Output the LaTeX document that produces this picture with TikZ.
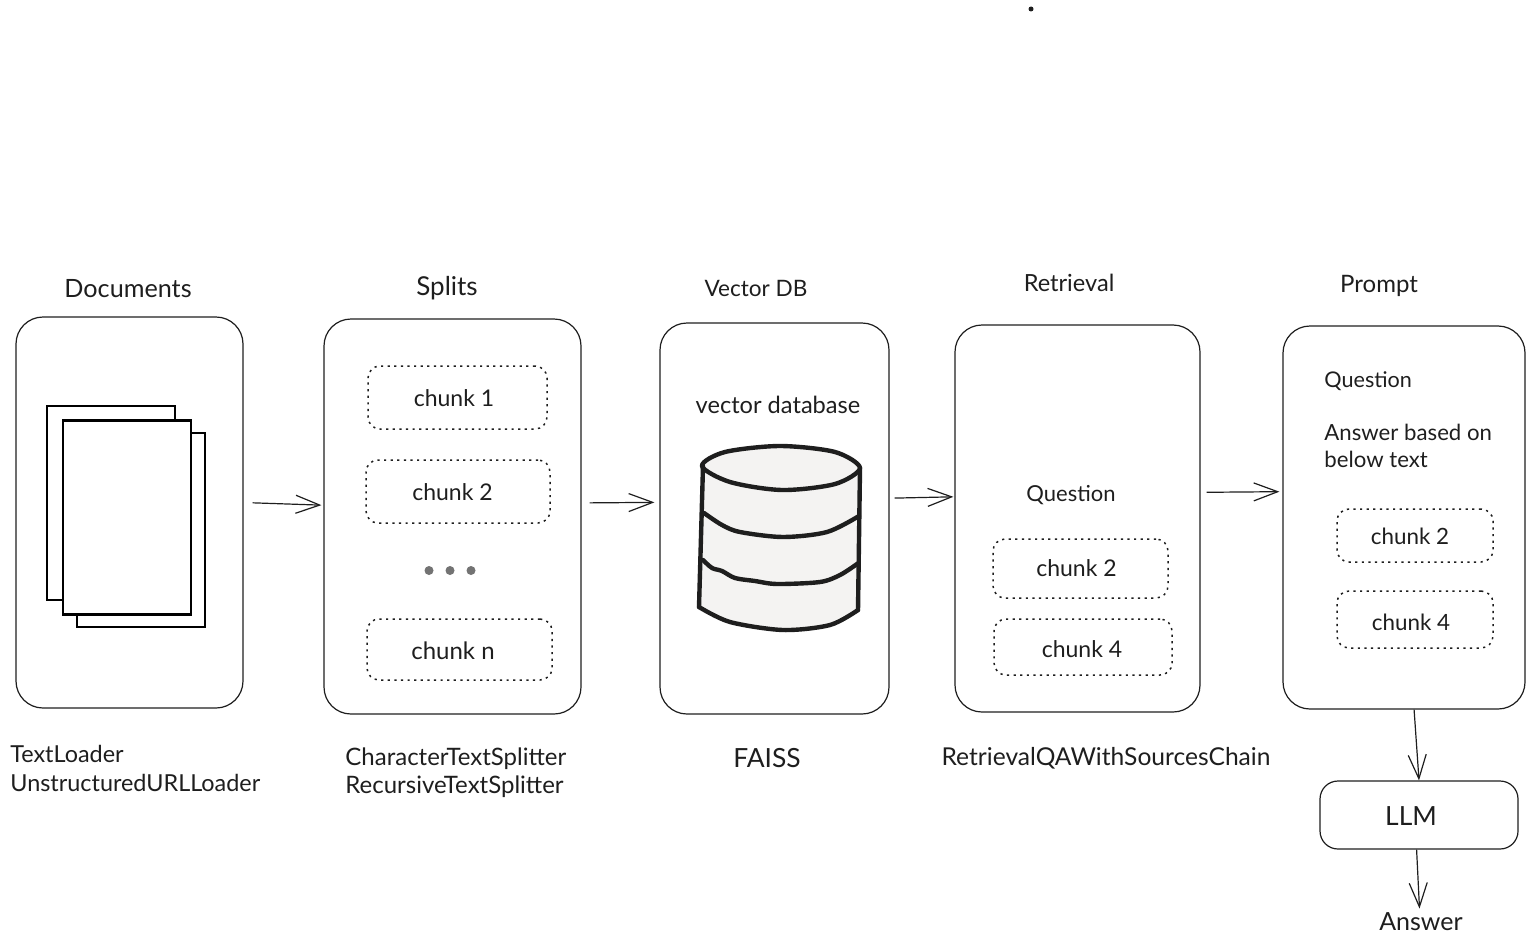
\documentclass[tikz,border=0pt]{standalone}
\usepackage{fontspec}
\setmainfont{Lato}
\usetikzlibrary{arrows.meta}
\definecolor{inkc}{HTML}{1E1E1E}
\definecolor{dbfill}{HTML}{F4F3F2}
\begin{document}
\begin{tikzpicture}[x=0.5pt,y=-0.5pt,>={Straight Barb[length=12pt,width=9pt]},
    panel/.style = {draw=inkc, line width=0.6pt, rounded corners=13.5pt, inner sep=0pt},
    chunkbox/.style = {draw=inkc, line width=0.75pt, dash pattern=on 1.1pt off 2.2pt, rounded corners=6pt, inner sep=0pt},
    lbl/.style = {text=inkc, inner sep=0pt, align=left, font=\fontsize{#1}{14.3}\selectfont},
    sheet/.style = {draw=black, fill=white, line width=1pt, inner sep=0pt, minimum width=64pt, minimum height=97pt},
    flow/.style = {->, color=inkc, line width=0.6pt},
    band/.style = {draw=inkc, line width=2.2pt, line cap=round, line join=round}]
    \useasboundingbox (0,0) rectangle (1534,947);
    % panels
    \node[panel, minimum width=113.5pt, minimum height=195.5pt] (docs) at (129.5,512.5) {};
    \node[panel, minimum width=128.5pt, minimum height=197.5pt] (splits) at (452.5,516.5) {};
    \node[panel, minimum width=114.5pt, minimum height=195.5pt] (vdb) at (774.5,518.5) {};
    \node[panel, minimum width=122.5pt, minimum height=193.5pt] (retr) at (1077.5,518.5) {};
    \node[panel, minimum width=121pt, minimum height=191.5pt] (prompt) at (1404,517.5) {};
    \node[panel, rounded corners=9pt, minimum width=99pt, minimum height=34pt] (llm) at (1419,815) {};
    \node[lbl=13.2] (llmtxt) at (1411,816) {LLM};
    % titles
    \node[lbl=12.6] (t1) at (128,289) {Documents};
    \node[lbl=13] (t2) at (447,288) {Splits};
    \node[lbl=11.3] (t3) at (756,288) {Vector DB};
    \node[lbl=11.8] (t4) at (1069,283) {Retrieval};
    \node[lbl=12] (t5) at (1379,286) {Prompt};
    % sheets
    \node[sheet] (s1) at (110.5,503) {};
    \node[sheet] (s2) at (141,530) {};
    \node[sheet, line width=1.2pt] (s3) at (127,517.5) {};
    % splits
    \node[chunkbox, minimum width=89.5pt, minimum height=31.5pt] (c1) at (457.5,397.5) {};
    \node[lbl=11.5] (c1t) at (454,398) {chunk 1};
    \node[chunkbox, minimum width=92pt, minimum height=31.5pt] (c2) at (458,491.5) {};
    \node[lbl=11.5] (c2t) at (452.5,492.5) {chunk 2};
    \foreach \px/\nm in {429/d1, 450/d2, 471/d3}
        \node[circle, fill=black!55, inner sep=0pt, minimum size=4.5pt] (\nm) at (\px,570.5) {};
    \node[chunkbox, minimum width=92.5pt, minimum height=30.5pt] (cn) at (459.5,649.5) {};
    \node[lbl=12] (cnt) at (453,651) {chunk n};
    % database
    \node[lbl=11.8] (vtxt) at (778,405) {vector database};
    \fill[dbfill] (702,466) -- plot[smooth] coordinates {(698,607) (730,622) (783,630) (830,625) (858,610)} -- (860,468) -- cycle;
    \draw[band, fill=dbfill] plot[smooth cycle] coordinates {(702,466) (725,452) (780,446) (835,452) (860,468) (835,484) (782,490) (730,482)};
    \draw[band] (703,466) -- (699,607);
    \draw[band] (860,468) -- (858,610);
    \draw[band] plot[smooth] coordinates {(699,607) (730,622) (783,630) (830,625) (858,610)};
    \draw[band] plot[smooth] coordinates {(704,513) (722,525) (740,532) (783,537) (827,532) (859,516)};
    \draw[band] plot[smooth] coordinates {(703,560) (712,568) (722,571) (735,578) (755,581) (777,584) (820,582) (840,575) (857,564)};
    % retrieval
    \node[lbl=11] (qr) at (1071,495.5) {Question};
    \node[chunkbox, minimum width=87.5pt, minimum height=29.5pt] (r2) at (1080.5,568.5) {};
    \node[lbl=11.5] (r2t) at (1076.5,568) {chunk 2};
    \node[chunkbox, minimum width=89pt, minimum height=28pt] (r4) at (1083,647) {};
    \node[lbl=11.5] (r4t) at (1082,649) {chunk 4};
    % prompt
    \node[lbl=10.8, anchor=west] (qp) at (1324,381) {Question};
    \node[lbl=11.1, anchor=north west] (ap) at (1324,424) {Answer based on\\[-0.8pt]below text};
    \node[chunkbox, minimum width=78pt, minimum height=26.5pt] (p2) at (1415,535.5) {};
    \node[lbl=11.2] (p2t) at (1410,536) {chunk 2};
    \node[chunkbox, minimum width=78pt, minimum height=28.5pt] (p4) at (1415,619.5) {};
    \node[lbl=11.2] (p4t) at (1411,622) {chunk 4};
    % tools
    \node[lbl=11.7, anchor=north west] (l1) at (10,745) {TextLoader\\UnstructuredURLLoader};
    \node[lbl=12, anchor=north west] (l2) at (345,747) {CharacterTextSplitter\\RecursiveTextSplitter};
    \node[lbl=13.2] (l3) at (767,758) {FAISS};
    \node[lbl=12.3] (l4) at (1106,758) {RetrievalQAWithSourcesChain};
    \node[lbl=12.5] (ans) at (1421,922) {Answer};
    \node[circle, fill=inkc, inner sep=0pt, minimum size=2.5pt] (speck) at (1031,9) {};
    % arrows
    \path[flow]
        (docs.5) edge[shorten <=4.5pt, shorten >=1pt] (splits.175)
        (splits.6.4) edge[shorten <=4pt, shorten >=2.5pt] (vdb.172.8)
        (vdb.10.2) edge[shorten <=2.5pt, shorten >=0.5pt] (retr.170.5)
        (retr.12.6) edge[shorten <=3pt, shorten >=1.5pt] (prompt.168.1)
        (prompt.-87.2) edge (llm.north)
        (llm.266) edge[shorten >=2pt] (ans.98);
\end{tikzpicture}
\end{document}
